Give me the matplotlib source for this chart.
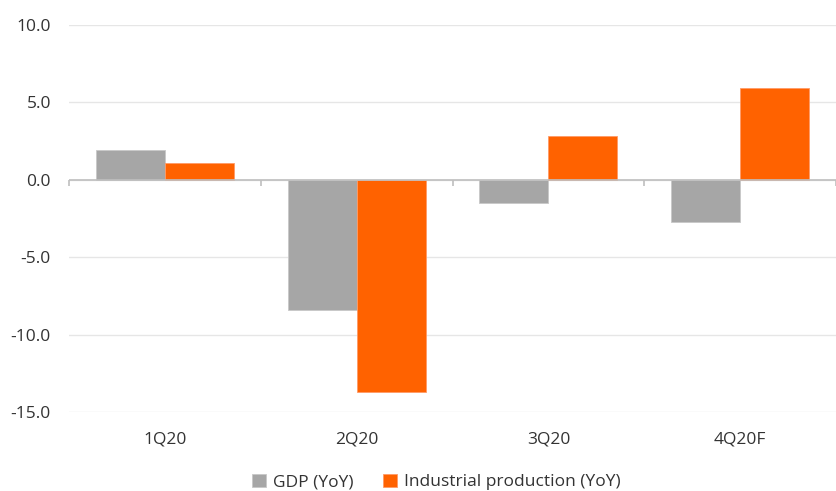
import matplotlib
matplotlib.use("Agg")
import matplotlib.pyplot as plt
import numpy as np

categories = ["1Q20", "2Q20", "3Q20", "4Q20F"]
gdp = [1.9, -8.4, -1.5, -2.7]
industrial = [1.1, -13.7, 2.8, 5.9]
series_names = ["GDP (YoY)", "Industrial production (YoY)"]
yticks = [10.0, 5.0, 0.0, -5.0, -10.0, -15.0]

plt.rcParams['font.family'] = ['Open Sans', 'DejaVu Sans']
text_color = "#333333"

fig = plt.figure(figsize=(8.36, 4.91), dpi=100)
ax = fig.add_axes([69/836, (491-412.3)/491, (836-69)/836, (412.3-24.5)/491])

x = np.arange(len(categories))
w = 0.36
ax.bar(x - w/2, gdp, w, color="#a6a6a6", edgecolor="#c8c8c8", linewidth=0.6, label=series_names[0], zorder=3)
ax.bar(x + w/2, industrial, w, color="#ff6200", edgecolor="#ff9a66", linewidth=0.6, label=series_names[1], zorder=3)

ax.set_xlim(-0.5, len(categories) - 0.5)
ax.set_ylim(-15, 10)
ax.set_yticks(yticks)
ax.set_yticklabels([f"{v:.1f}" for v in yticks], fontsize=12.5, color=text_color)
ax.yaxis.grid(True, color="#e6e6e6", linewidth=1, zorder=0)
ax.tick_params(axis="y", length=0, pad=13)
ax.axhline(0, color="#bfbfbf", linewidth=1.2, zorder=4)
ax.vlines(np.arange(len(categories) + 1) - 0.5, -0.4, 0, color="#bfbfbf", linewidth=1.2, zorder=4, clip_on=False)

ax.set_xticks(x)
ax.set_xticklabels(categories, fontsize=12.5, color=text_color)
ax.tick_params(axis="x", length=0, pad=14)
for s in ax.spines.values():
    s.set_visible(False)

fig.legend(loc="center", bbox_to_anchor=(0.522, 1 - 482/491), ncol=2, frameon=False,
           fontsize=12.5, handlelength=0.8, handleheight=0.8, handletextpad=0.4,
           columnspacing=1.7, labelcolor=text_color)

fig.savefig("out.png", dpi=100)
